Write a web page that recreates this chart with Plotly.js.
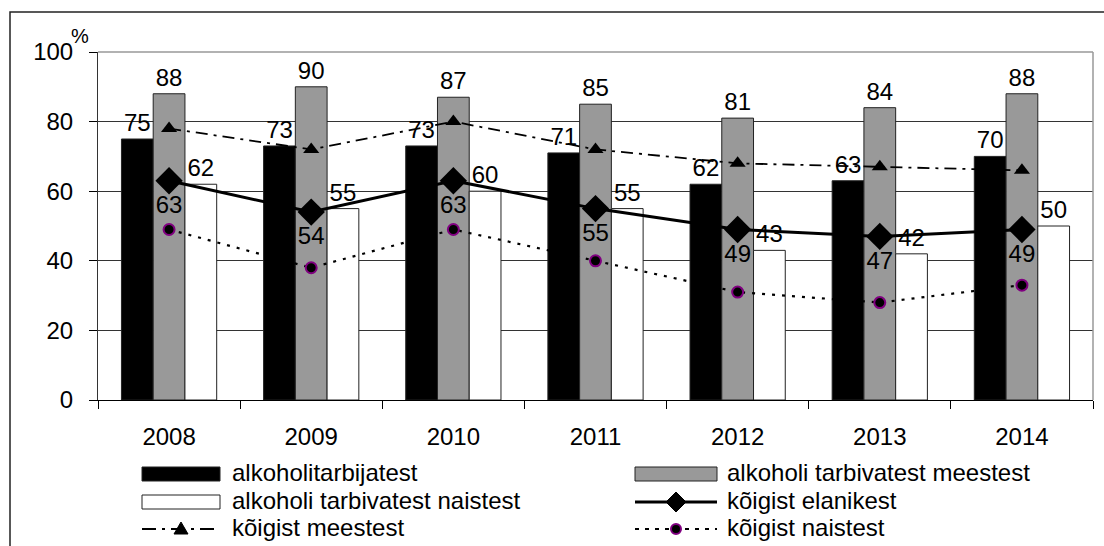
<!DOCTYPE html>
<html>
<head>
<meta charset="utf-8">
<script src="https://cdn.plot.ly/plotly-3.0.1.min.js"></script>
<style>html,body{margin:0;padding:0;background:#fff;}#chart{width:1104px;height:546px;}</style>
</head>
<body>
<div id="chart"></div>
<script>
// ---- data ----
const years = ['2008', '2009', '2010', '2011', '2012', '2013', '2014'];
const alkoholitarbijatest = [75, 73, 73, 71, 62, 63, 70];
const tarbivatestMeestest = [88, 90, 87, 85, 81, 84, 88];
const tarbivatestNaistest = [62, 55, 60, 55, 43, 42, 50];
const koigistElanikest = [63, 54, 63, 55, 49, 47, 49];
const koigistMeestest = [78, 72, 80, 72, 68, 67, 66];
const koigistNaistest = [49, 38, 49, 40, 31, 28, 33];
const seriesNames = ['alkoholitarbijatest', 'alkoholi tarbivatest meestest', 'alkoholi tarbivatest naistest',
  'kõigist elanikest', 'kõigist meestest', 'kõigist naistest'];

// ---- geometry ----
const W = 1104, H = 546;
const M = {l: 98, r: 11, t: 52, b: 146};
const PW = W - M.l - M.r, PH = H - M.t - M.b;
const px = x => (x - M.l) / PW;
const py = y => (H - M.b - y) / PH;
const FONT = '"Liberation Sans", Arial, sans-serif';
const FS = 24;

const bar = (y, name, color) => ({
  type: 'bar', x: years, y: y, name: name,
  marker: {color: color, line: {color: '#222', width: 1}},
  text: y.map(String), textposition: 'outside', cliponaxis: false,
  constraintext: 'none',
  textfont: {family: FONT, size: FS, color: '#000'}, hoverinfo: 'none'
});

const traces = [
  bar(alkoholitarbijatest, seriesNames[0], '#000000'),
  bar(tarbivatestMeestest, seriesNames[1], '#999999'),
  bar(tarbivatestNaistest, seriesNames[2], '#ffffff'),
  {type: 'scatter', mode: 'lines+markers', x: years, y: koigistMeestest, name: seriesNames[4],
   line: {color: '#000', width: 1.8, dash: '12px,6px,3px,6px'},
   marker: {symbol: 'triangle-up', size: 14, color: '#000'}, cliponaxis: false, hoverinfo: 'none'},
  {type: 'scatter', mode: 'lines+markers', x: years, y: koigistNaistest, name: seriesNames[5],
   line: {color: '#000', width: 2.2, dash: '3px,7px'},
   marker: {symbol: 'circle', size: 11, color: '#000', line: {color: '#800080', width: 2}}, cliponaxis: false, hoverinfo: 'none'},
  {type: 'scatter', mode: 'lines+markers+text', x: years, y: koigistElanikest, name: seriesNames[3],
   line: {color: '#000', width: 3},
   marker: {symbol: 'diamond', size: 21, color: '#000'},
   text: koigistElanikest.map(String), textposition: 'bottom center',
   textfont: {family: FONT, size: FS, color: '#000'}, cliponaxis: false, hoverinfo: 'none'}
];

// ---- hand-built legend (2 columns x 3 rows) ----
const shapes = [
  // outer chart frame
  {type: 'rect', xref: 'paper', yref: 'paper', x0: px(10), x1: px(1110), y0: py(560), y1: py(12),
   line: {color: '#222', width: 1.5}, fillcolor: 'rgba(0,0,0,0)', layer: 'below'},
  // plot area top/right border (gray)
  {type: 'line', xref: 'paper', yref: 'paper', x0: 0, x1: 1, y0: 1, y1: 1, line: {color: '#999', width: 1.5}},
  {type: 'line', xref: 'paper', yref: 'paper', x0: 1, x1: 1, y0: 0, y1: 1, line: {color: '#999', width: 1.5}}
];
const annotations = [
  {xref: 'paper', yref: 'paper', x: px(80), y: py(36), text: '%', showarrow: false,
   xanchor: 'center', yanchor: 'middle', font: {family: FONT, size: 20, color: '#000'}}
];

const col = [{s0: 142, s1: 220, t: 230}, {s0: 635, s1: 717, t: 725}];
const rowText = [472, 500, 527];
const legendItems = [
  {c: 0, r: 0, kind: 'rect', fill: '#000000'},
  {c: 1, r: 0, kind: 'rect', fill: '#999999'},
  {c: 0, r: 1, kind: 'rect', fill: '#ffffff'},
  {c: 1, r: 1, kind: 'line', dash: 'solid', w: 3, mk: 'diamond'},
  {c: 0, r: 2, kind: 'line', dash: '14px,6px,3px,6px', w: 1.8, mk: 'triangle'},
  {c: 1, r: 2, kind: 'line', dash: '4px,6px', w: 2, mk: 'circle'}
];
const order = [0, 1, 2, 3, 4, 5];
legendItems.forEach((it, i) => {
  const cc = col[it.c];
  const yc = rowText[it.r] + 2;
  const nm = seriesNames[order[i]];
  if (it.kind === 'rect') {
    shapes.push({type: 'rect', xref: 'paper', yref: 'paper', x0: px(cc.s0), x1: px(cc.s1),
      y0: py(yc + 7), y1: py(yc - 7), fillcolor: it.fill, line: {color: '#222', width: 1}});
  } else {
    shapes.push({type: 'line', xref: 'paper', yref: 'paper', x0: px(cc.s0), x1: px(cc.s1),
      y0: py(yc), y1: py(yc), line: {color: '#000', width: it.w, dash: it.dash}});
    const mx = (cc.s0 + cc.s1) / 2;
    if (it.mk === 'diamond') {
      shapes.push({type: 'path', xref: 'paper', yref: 'paper',
        path: `M ${px(mx - 10)} ${py(yc)} L ${px(mx)} ${py(yc - 10)} L ${px(mx + 10)} ${py(yc)} L ${px(mx)} ${py(yc + 10)} Z`,
        fillcolor: '#000', line: {color: '#000', width: 1}});
    } else if (it.mk === 'triangle') {
      shapes.push({type: 'path', xref: 'paper', yref: 'paper',
        path: `M ${px(mx - 7)} ${py(yc + 5)} L ${px(mx)} ${py(yc - 7)} L ${px(mx + 7)} ${py(yc + 5)} Z`,
        fillcolor: '#000', line: {color: '#000', width: 1}});
    } else {
      shapes.push({type: 'circle', xref: 'paper', yref: 'paper',
        x0: px(mx - 5), x1: px(mx + 5), y0: py(yc + 5), y1: py(yc - 5),
        fillcolor: '#000', line: {color: '#800080', width: 2}});
    }
  }
  annotations.push({xref: 'paper', yref: 'paper', x: px(cc.t), y: py(rowText[it.r]), text: nm,
    showarrow: false, xanchor: 'left', yanchor: 'middle', font: {family: FONT, size: FS, color: '#000'}});
});

const layout = {
  width: W, height: H, margin: M, showlegend: false,
  paper_bgcolor: '#fff', plot_bgcolor: '#fff',
  font: {family: FONT, size: FS, color: '#000'},
  barmode: 'group', bargap: 0.33, bargroupgap: 0,
  xaxis: {type: 'category', tickson: 'boundaries', ticks: 'outside', ticklen: 8, tickcolor: '#000',
    showline: true, linecolor: '#000', linewidth: 1, showgrid: false,
    tickfont: {family: FONT, size: FS, color: '#000'}, ticklabelstandoff: 15, fixedrange: true},
  yaxis: {range: [0, 100], dtick: 20, tick0: 0, ticks: 'outside', ticklen: 8, tickcolor: '#000',
    showline: true, linecolor: '#333', linewidth: 1, gridcolor: '#333', gridwidth: 1, zeroline: false,
    tickfont: {family: FONT, size: FS, color: '#000'}, ticklabelstandoff: 11, fixedrange: true},
  shapes: shapes, annotations: annotations
};

Plotly.newPlot('chart', traces, layout, {staticPlot: true, displayModeBar: false});
</script>
</body>
</html>
